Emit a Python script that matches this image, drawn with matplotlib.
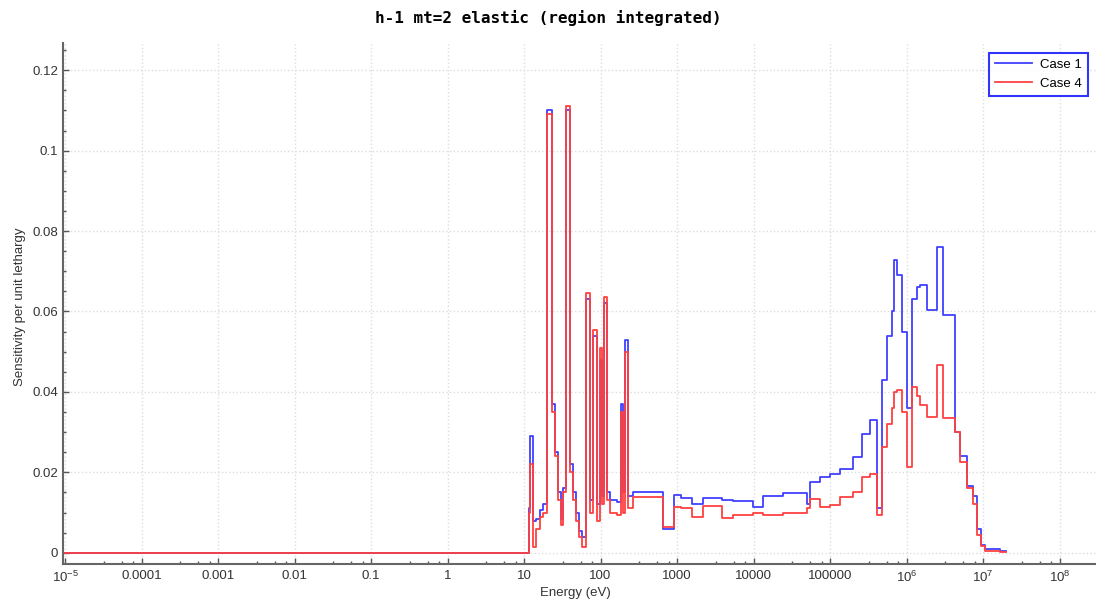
import numpy as np
import matplotlib
matplotlib.use("Agg")
import matplotlib.pyplot as plt
from matplotlib.ticker import FixedLocator, FixedFormatter, MultipleLocator, LogLocator, NullFormatter

plt.rcParams["font.family"] = ["Liberation Sans", "DejaVu Sans"]
plt.rcParams["mathtext.fontset"] = "custom"
plt.rcParams["mathtext.rm"] = "Liberation Sans"
plt.rcParams["mathtext.it"] = "Liberation Sans"

# group boundaries (eV)
edges = [1e-5, 11.45, 11.98, 13.11, 14.35, 16.19, 17.72, 19.98, 22.88, 25.42,
         27.82, 30.46, 32.35, 34.87, 39.93, 43.71, 47.84, 52.36, 57.32, 63.68,
         72.91, 79.80, 90.0, 98.5, 104.6, 111.1, 119.8, 133.2, 164.3, 185.4,
         196.9, 209.1, 225.4, 266.0, 656.2, 913.7, 1128, 1571, 2187, 3875,
         5395, 9851, 13310, 24300, 50050, 54770, 74000, 1.0e5, 1.351e5, 1.998e5,
         2.62e5, 3.334e5, 4.116e5, 4.782e5, 5.56e5, 6.463e5, 6.864e5, 7.514e5, 8.734e5, 1.015e6,
         1.18e6, 1.372e6, 1.502e6, 1.854e6, 2.504e6, 3.0e6, 4.306e6, 5.004e6, 6.177e6, 7.40e6,
         8.35e6, 9.42e6, 1.062e7, 1.668e7, 2.0e7]

case1 = [0, 0.011, 0.029, 0.008, 0.0085, 0.0105, 0.012, 0.110, 0.037, 0.025,
         0.015, 0.0085, 0.016, 0.110, 0.022, 0.015, 0.010, 0.0055, 0.004, 0.063,
         0.013, 0.054, 0.012, 0.048, 0.014, 0.062, 0.015, 0.013, 0.0125, 0.037,
         0.015, 0.053, 0.014, 0.0152, 0.006, 0.0143, 0.0136, 0.012, 0.0136, 0.0130,
         0.0128, 0.0114, 0.0141, 0.0148, 0.0120, 0.0177, 0.0189, 0.0197, 0.0207, 0.0239,
         0.0296, 0.033, 0.011, 0.043, 0.054, 0.060, 0.0728, 0.069, 0.055, 0.036,
         0.063, 0.066, 0.0666, 0.0603, 0.0760, 0.0591, 0.030, 0.024, 0.0165, 0.014,
         0.006, 0.002, 0.0008, 0.0003]

case4 = [0, 0.010, 0.022, 0.0015, 0.006, 0.009, 0.010, 0.109, 0.035, 0.024,
         0.013, 0.007, 0.015, 0.111, 0.020, 0.013, 0.008, 0.004, 0.0015, 0.0645,
         0.010, 0.0555, 0.008, 0.051, 0.012, 0.0637, 0.013, 0.010, 0.0095, 0.035,
         0.010, 0.050, 0.011, 0.0139, 0.0065, 0.0114, 0.011, 0.009, 0.0116, 0.0086,
         0.0094, 0.0098, 0.0094, 0.0098, 0.0110, 0.0133, 0.0114, 0.0119, 0.0139, 0.0152,
         0.0189, 0.0197, 0.0094, 0.0264, 0.032, 0.036, 0.040, 0.0405, 0.035, 0.0214,
         0.0413, 0.039, 0.0367, 0.0338, 0.0466, 0.0334, 0.030, 0.0225, 0.016, 0.012,
         0.0045, 0.0017, 0.0005, 0.0002]

xtick_vals = [1e-5, 1e-4, 1e-3, 1e-2, 1e-1, 1, 10, 100, 1000, 1e4, 1e5, 1e6, 1e7, 1e8]
xtick_labels = [r"$10^{-5}$", "0.0001", "0.001", "0.01", "0.1", "1", "10", "100",
                "1000", "10000", "100000", r"$10^{6}$", r"$10^{7}$", r"$10^{8}$"]

fig = plt.figure(figsize=(10.96, 6.05), dpi=100)
ax = fig.add_axes([0.0575, 0.0673, 0.9425, 0.8611])

ax.step(edges, case1 + [case1[-1]], where="post", color="#4040ff", lw=1.3, label="Case 1")
ax.step(edges, case4 + [case4[-1]], where="post", color="#ff4040", lw=1.3, label="Case 4")

ax.set_xscale("log")
ax.set_xlim(10 ** -5.026, 10 ** 8.477)
ax.set_ylim(-0.00288, 0.1267)

ax.xaxis.set_major_locator(FixedLocator(xtick_vals))
ax.xaxis.set_major_formatter(FixedFormatter(xtick_labels))
ax.xaxis.set_minor_locator(LogLocator(base=10, subs=(3.2, 5.5, 7.8), numticks=40))
ax.xaxis.set_minor_formatter(NullFormatter())
ax.yaxis.set_major_locator(MultipleLocator(0.02))
ax.yaxis.set_minor_locator(MultipleLocator(0.005))
ax.yaxis.set_major_formatter(plt.FuncFormatter(lambda v, p: f"{v:g}"))

ax.tick_params(which="both", direction="in", colors="#555555", labelcolor="#333333", labelsize=9.5)
ax.tick_params(which="major", length=4, width=1)
ax.tick_params(which="minor", length=2, width=1)
ax.tick_params(axis="x", pad=4)

for s in ["top", "right"]:
    ax.spines[s].set_visible(False)
for s in ["left", "bottom"]:
    ax.spines[s].set_color("#666666")
    ax.spines[s].set_linewidth(1.5)

ax.grid(True, which="major", color="#dddddd", linestyle=":", linewidth=1)
ax.set_axisbelow(True)

fig.text(0.5, 0.970, "h-1 mt=2 elastic (region integrated)", ha="center", va="center",
         fontsize=11.5, fontweight="bold", family="DejaVu Sans Mono")
fig.text(0.525, 0.020, "Energy (eV)", ha="center", va="center", fontsize=9.5, color="#333333")
fig.text(0.018, 0.493, "Sensitivity per unit lethargy", ha="center", va="center",
         rotation=90, fontsize=9.5, color="#333333")

leg = ax.legend(loc="upper right", bbox_to_anchor=(0.992, 0.982), borderaxespad=0,
                fontsize=9.5, fancybox=False, handlelength=2.8, borderpad=0.45,
                labelspacing=0.5, handletextpad=0.6)
leg.get_frame().set_edgecolor("#0000ff")
leg.get_frame().set_linewidth(1.5)

fig.savefig("out.png", dpi=100)
